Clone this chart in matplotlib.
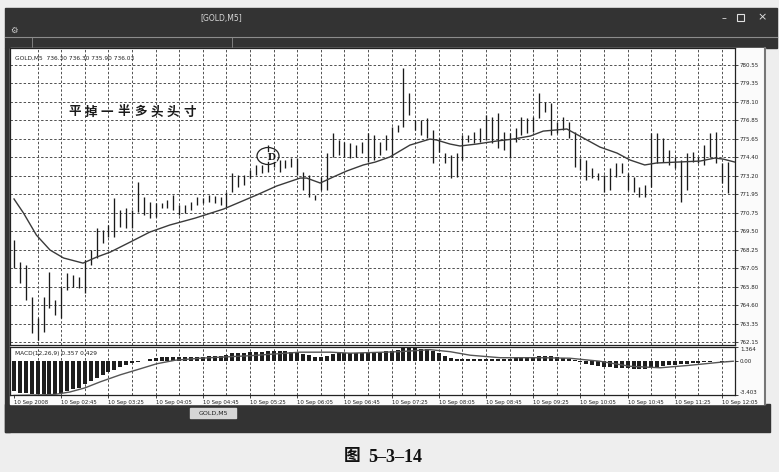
import matplotlib
matplotlib.use("Agg")
import matplotlib.pyplot as plt
from matplotlib.patches import Rectangle, Ellipse

# ---------------- data ----------------
highs = [768.92, 767.46, 767.26, 765.13, 763.74, 765.13, 766.80, 764.94, 765.80, 766.73,
         766.60, 766.46, 767.59, 768.26, 769.72, 769.59, 769.92, 771.71, 770.92, 771.05,
         770.92, 772.78, 771.78, 771.45, 771.38, 771.38, 771.58, 771.91, 771.25, 771.25,
         771.45, 771.78, 771.71, 771.91, 771.85, 771.78, 772.11, 773.37, 773.24, 773.24,
         773.57, 773.91, 773.91, 775.23, 774.90, 774.24, 774.24, 774.37, 774.37, 773.44,
         773.24, 771.91, 773.11, 774.70, 776.03, 775.57, 775.43, 775.37, 775.23, 775.43,
         776.03, 775.90, 775.43, 775.90, 776.43, 776.56, 780.35, 778.69, 776.90, 776.90,
         777.03, 776.23, 775.70, 774.70, 774.57, 774.70, 775.90, 775.90, 776.10, 776.36,
         777.23, 777.09, 777.36, 776.10, 776.03, 776.36, 777.09, 777.03, 777.09, 778.69,
         778.09, 778.03, 776.76, 777.09, 776.76, 776.10, 774.37, 774.24, 773.71, 773.37,
         773.24, 773.71, 774.04, 774.04, 773.37, 773.11, 772.44, 772.58, 776.03, 776.03,
         775.70, 774.90, 774.44, 774.24, 774.70, 774.77, 774.44, 775.23, 776.03, 776.10,
         774.04, 774.10]
lows = [767.06, 766.06, 764.94, 762.74, 762.28, 762.81, 764.40, 763.94, 763.74, 765.60,
        765.80, 765.73, 765.40, 767.26, 767.73, 768.72, 769.12, 769.12, 769.79, 769.72,
        769.72, 770.78, 770.58, 770.38, 770.45, 771.05, 771.05, 770.92, 770.58, 770.72,
        770.92, 771.25, 771.38, 771.45, 771.38, 771.25, 771.11, 772.11, 772.44, 772.58,
        773.04, 773.24, 773.37, 773.44, 773.77, 773.44, 773.71, 773.77, 773.24, 772.24,
        771.78, 771.58, 772.24, 772.24, 774.44, 774.57, 774.44, 774.37, 774.44, 774.70,
        774.10, 774.24, 774.57, 774.90, 774.44, 776.10, 776.43, 777.23, 776.23, 775.90,
        775.70, 774.04, 774.77, 774.04, 773.04, 773.11, 774.24, 775.43, 775.37, 775.43,
        775.57, 775.37, 775.04, 774.90, 774.37, 775.43, 775.90, 776.03, 776.10, 777.03,
        777.43, 775.90, 776.03, 776.23, 775.70, 773.77, 773.57, 772.91, 773.04, 772.91,
        772.11, 772.24, 773.11, 773.37, 772.24, 772.11, 771.78, 771.78, 772.44, 774.04,
        774.10, 773.91, 773.71, 771.45, 772.24, 774.10, 774.04, 773.91, 774.44, 774.04,
        772.71, 772.05]

ma_idx = [0, 1.6, 3.8, 6.1, 8.4, 11.7, 14, 16.3, 19.7, 23, 26.4, 30.7, 35.5, 41.1, 44.5,
          48.5, 49.6, 51.9, 54.1, 56.4, 59.2, 61.2, 63.7, 67.1, 70.5, 71.6, 73.9, 75.6,
          78.4, 81.8, 84.6, 87.5, 89.7, 93.7, 96.5, 99.3, 102.2, 104.4, 106.9, 108.9,
          112.3, 116.3, 118.8, 120.2, 122.2]
ma_val = [771.65, 770.72, 769.25, 768.26, 767.73, 767.39, 767.79, 768.12, 768.79, 769.45,
          769.92, 770.38, 770.98, 771.91, 772.51, 773.04, 773.04, 772.71, 773.11, 773.51,
          773.91, 774.10, 774.44, 775.23, 775.63, 775.57, 775.30, 775.17, 775.30, 775.50,
          775.63, 775.83, 776.16, 776.30, 775.70, 775.10, 774.70, 774.24, 773.91, 774.04,
          774.10, 774.17, 774.37, 774.30, 774.10]

macd = [-3.0, -3.2, -3.25, -3.3, -3.3, -3.3, -3.3, -3.3, -3.2, -3.0,
        -2.8, -2.7, -2.3, -2.0, -1.7, -1.4, -1.1, -0.9, -0.65, -0.45,
        -0.25, -0.15, -0.05, 0.15, 0.3, 0.35, 0.4, 0.4, 0.4, 0.4,
        0.4, 0.4, 0.4, 0.45, 0.45, 0.5, 0.55, 0.75, 0.8, 0.8,
        0.85, 0.9, 0.9, 1.0, 1.0, 0.95, 0.95, 0.9, 0.85, 0.7,
        0.55, 0.4, 0.4, 0.5, 0.7, 0.75, 0.75, 0.75, 0.75, 0.8,
        0.85, 0.9, 0.9, 0.95, 1.0, 1.1, 1.25, 1.3, 1.25, 1.2,
        1.15, 1.0, 0.8, 0.5, 0.3, 0.2, 0.2, 0.15, 0.15, 0.15,
        0.15, 0.2, 0.2, 0.2, 0.2, 0.25, 0.3, 0.35, 0.4, 0.45,
        0.5, 0.45, 0.4, 0.3, 0.2, 0.05, -0.1, -0.3, -0.4, -0.5,
        -0.6, -0.65, -0.7, -0.7, -0.75, -0.8, -0.85, -0.85, -0.75, -0.6,
        -0.5, -0.45, -0.4, -0.35, -0.3, -0.25, -0.2, -0.15, -0.1, -0.05,
        -0.1, -0.15]
sig_idx = [0, 3.6, 6.9, 9.5, 12, 14.6, 18, 21.4, 24.2, 27.3, 31.5, 40, 48.5, 53.6, 57,
           65.4, 70.5, 73.9, 77.3, 82.4, 89.2, 94.2, 99.3, 104.4, 109.5, 114.6, 119.7, 121.9]
sig_val = [-3.45, -3.4, -3.35, -3.1, -2.7, -2.1, -1.4, -0.8, -0.3, 0.05, 0.25, 0.5, 0.85,
           0.85, 0.75, 0.9, 1.1, 0.9, 0.55, 0.3, 0.3, 0.25, -0.05, -0.55, -0.7, -0.45,
           -0.15, -0.05]

price_labels = ["762.15", "763.35", "764.60", "765.80", "767.05", "768.25", "769.50",
                "770.75", "771.95", "773.20", "774.40", "775.65", "776.85", "778.10",
                "779.35", "780.55"]
price_low, price_high = 762.15, 780.55
time_labels = ["10 Sep 2008", "10 Sep 02:45", "10 Sep 03:25", "10 Sep 04:05",
               "10 Sep 04:45", "10 Sep 05:25", "10 Sep 06:05", "10 Sep 06:45",
               "10 Sep 07:25", "10 Sep 08:05", "10 Sep 08:45", "10 Sep 09:25",
               "10 Sep 10:05", "10 Sep 10:45", "10 Sep 11:25", "10 Sep 12:05"]
macd_max, macd_min = 1.364, -3.403

# ---------------- figure ----------------
W, H = 779, 472
fig = plt.figure(figsize=(W / 100, H / 100), dpi=100)
fig.patch.set_facecolor('#eeeeee')

under = fig.add_axes([0, 0, 1, 1], zorder=0)
under.set_xlim(0, W)
under.set_ylim(H, 0)
under.axis('off')

dark = '#333333'
under.add_patch(Rectangle((5, 8), 772, 40, color=dark))          # title + toolbar
under.add_patch(Rectangle((5, 48), 5, 384, color=dark))          # left border
under.add_patch(Rectangle((5, 404), 765, 28, color=dark))        # bottom tab bar
under.add_patch(Rectangle((10, 48), 755, 356, color='#fbfbfb'))  # chart area
under.plot([765, 765], [48, 404], color='#777777', lw=1.5)
under.plot([5, 777], [37, 37], color='#8c8c8c', lw=0.8)
under.plot([32, 32], [37, 47], color='#8c8c8c', lw=0.6)
under.plot([232, 232], [37, 47], color='#8c8c8c', lw=0.6)
under.text(200, 18, '[GOLD,M5]', color='#d8d8d8', fontsize=5.5, va='center')
under.text(14, 30, '\u2699', color='#cfcfcf', fontsize=6, va='center', ha='center')
under.text(722, 18, '\u2013', color='#e0e0e0', fontsize=7, va='center')
under.add_patch(Rectangle((737, 14), 7, 7, fill=False, ec='#e0e0e0', lw=0.8))
under.text(762, 17.5, '\u00d7', color='#e0e0e0', fontsize=8, va='center', ha='center')
under.add_patch(Rectangle((190, 408), 46, 10, color='#d6d6d6'))
under.text(213, 413, 'GOLD,M5', fontsize=4.5, ha='center', va='center', color='#222222')

# caption
under.text(344, 456, '\u56fe', family=['Noto Sans CJK SC', 'DejaVu Sans'], fontsize=12,
           fontweight='bold', va='center', color='#111111')
under.text(368, 457, '5\u20133\u201314', family='Liberation Serif', fontweight='bold',
           fontsize=13, va='center', color='#111111')

grid_kw = dict(color='#505050', lw=0.7, linestyle=(0, (2.5, 2)))

# ---------------- price panel ----------------
px_per_unit = 15.05
ylo = price_low - 3 / px_per_unit
yhi = price_high + 17 / px_per_unit
axp = fig.add_axes([10 / W, 1 - 345 / H, 725 / W, 297 / H], zorder=2)
axp.set_facecolor('white')
xlo, xhi = -0.68, 122.2
axp.set_xlim(xlo, xhi)
axp.set_ylim(ylo, yhi)
n = len(highs)
idx = list(range(n))
step = (price_high - price_low) / (len(price_labels) - 1)
ticks = [price_low + step * i for i in range(len(price_labels))]
for t in ticks:
    axp.axhline(t, **grid_kw, zorder=0)
for k in range(4, 124, 4):
    axp.axvline(k, **grid_kw, zorder=0)
axp.vlines(idx, lows, highs, color='#1a1a1a', lw=0.95, zorder=3)
axp.plot(ma_idx, ma_val, color='#3a3a3a', lw=1.0, zorder=3)
axp.yaxis.tick_right()
axp.set_yticks(ticks)
axp.set_yticklabels(price_labels)
axp.tick_params(axis='y', length=2, width=0.6, pad=1.5, labelsize=4, colors='#222222')
axp.set_xticks([])
for s in axp.spines.values():
    s.set_color('#222222')
    s.set_linewidth(0.9)

# ---------------- MACD panel ----------------
axm = fig.add_axes([10 / W, 1 - 395 / H, 725 / W, 48 / H], zorder=2)
axm.set_facecolor('white')
axm.set_xlim(xlo, xhi)
axm.set_ylim(macd_min, macd_max)
for k in range(4, 124, 4):
    axm.axvline(k, **grid_kw, zorder=0)
axm.bar(idx, macd, width=0.68, color='#1e1e1e', zorder=3)
axm.plot(sig_idx, sig_val, color='#555555', lw=1.0, zorder=4)
axm.yaxis.tick_right()
axm.set_yticks([macd_min, 0, macd_max])
axm.set_yticklabels(['-3.403', '0.00', '1.364'])
axm.tick_params(axis='y', length=2, width=0.6, pad=1.5, labelsize=4, colors='#222222')
labs = axm.get_yticklabels()
labs[0].set_va('bottom')
labs[2].set_va('top')
axm.set_xticks(list(range(0, 8 * len(time_labels), 8)))
axm.set_xticklabels(time_labels, ha='left')
axm.tick_params(axis='x', length=2, width=0.6, pad=1.5, labelsize=3.9, colors='#222222')
for s in axm.spines.values():
    s.set_color('#222222')
    s.set_linewidth(0.9)

# ---------------- overlay texts ----------------
over = fig.add_axes([0, 0, 1, 1], zorder=10)
over.set_xlim(0, W)
over.set_ylim(H, 0)
over.axis('off')
over.patch.set_alpha(0)
over.text(15, 58, 'GOLD,M5  736.30 736.30 735.90 736.03', fontsize=4.2, va='center',
          color='#222222')
over.text(15, 353, 'MACD(12,26,9) 0.357 0.429', fontsize=4.2, va='center',
          color='#222222')
title_cn = '平掉一半多头头寸'
for i, ch in enumerate(title_cn):
    over.text(68 + 16.5 * i, 112, ch, family=['Noto Sans CJK SC', 'DejaVu Sans'],
              fontsize=9, fontweight='bold', va='center', color='#1a1a1a')
over.add_patch(Ellipse((268, 156), 22, 17, fill=False, ec='#222222', lw=0.9))
over.text(272, 157, 'D', family='Liberation Serif', fontweight='bold', fontsize=8,
          ha='center', va='center', color='#111111',
          bbox=dict(boxstyle='square,pad=0.05', fc='white', ec='none', alpha=0.85))

fig.savefig('out.png', dpi=100, facecolor=fig.get_facecolor())
